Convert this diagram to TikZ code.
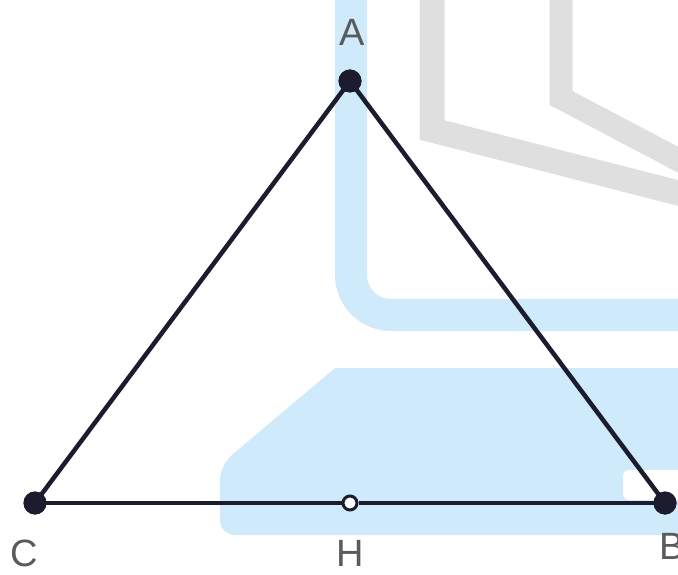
\documentclass[tikz,border=0pt]{standalone}
\usepackage{fontspec}
\setmainfont{Liberation Sans}
\definecolor{wmblue}{HTML}{CFEAFB}
\definecolor{wmgray}{HTML}{DFDFDF}
\definecolor{ink}{HTML}{1C1C2E}
\definecolor{labelc}{HTML}{5A5A5A}
\tikzset{
  side/.style={draw=ink, line width=4.5pt},
  fulldot/.style={circle, fill=ink, inner sep=0pt, minimum size=23pt},
  opendot/.style={circle, draw=ink, fill=white, line width=3pt, inner sep=0pt, minimum size=14pt},
  ptlabel/.style={text=labelc, font=\fontsize{38}{38}\selectfont, inner sep=0pt}
}
\begin{document}
\begin{tikzpicture}[x=1pt,y=-1pt]
\useasboundingbox (0,0) rectangle (678,575);
% watermark
\draw[wmgray, line width=25pt, line join=miter] (432,0) -- (432,130) -- (690,196);
\draw[wmgray, line width=23pt, line join=miter] (561,0) -- (561,98) -- (690,166);
\draw[wmblue, line width=32pt, rounded corners=40pt] (351,0) -- (351,315) -- (690,315);
\fill[wmblue] (335,368) -- (690,368) -- (690,535) -- (240,535) [rounded corners=15pt] -- (220,535) -- (220,465) [sharp corners] -- cycle;
\fill[white, rounded corners=6pt] (623,470) rectangle (700,500);
% points
\node[fulldot] (A) at (350,81) {};
\node[fulldot] (C) at (35,503) {};
\node[fulldot] (B) at (665,503) {};
\node[opendot] (H) at (350,503) {};
\draw[side] (A.center) -- (B.center);
\draw[side] (A.center) -- (C.center);
\draw[side] (C.center) -- (H);
\draw[side] (H) -- (B.center);
\node[fulldot] at (A) {};
\node[fulldot] at (C) {};
\node[fulldot] at (B) {};
% labels
\node[ptlabel] (lA) at (352,32) {A};
\node[ptlabel] (lC) at (24,553) {C};
\node[ptlabel] (lH) at (350,553) {H};
\node[ptlabel] (lB) at (672,546) {B};
\end{tikzpicture}
\end{document}
